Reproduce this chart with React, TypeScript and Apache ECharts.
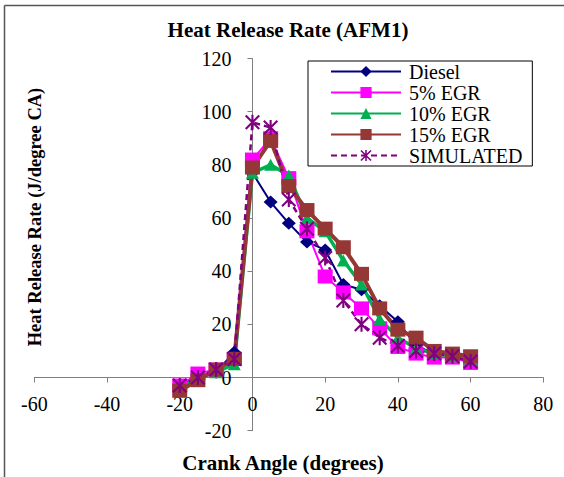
import React, { useEffect, useRef } from "react";
import * as echarts from "echarts";

const angles = [-20, -15, -10, -5, 0, 5, 10, 15, 20, 25, 30, 35, 40, 45, 50, 55, 60];
const diesel = [-3, 0, 2, 9.5, 77, 66, 58, 51, 48, 35, 33, 27, 21, 12, 9, 8, 7];
const egr5 = [-3, 1.5, 3, 7, 82, 90, 75, 55, 38, 32, 26, 18.5, 11.5, 9, 7.5, 7.5, 5.5];
const egr10 = [-4, 0, 2, 5, 77, 80, 76, 60, 55, 44, 35, 22, 15, 11, 9, 8, 7];
const egr15 = [-5, -1, 3, 7, 79, 89, 72, 63, 56, 49, 39, 26, 18, 15, 10, 9, 8];
const simulated = [-3, 0, 3, 7, 96, 94, 67, 56, 45, 29, 20, 15, 12, 10, 9, 8, 6];

const seriesNames = ["Diesel", "5% EGR", "10% EGR", "15% EGR", "SIMULATED"];

const X_MIN = -60;
const X_MAX = 80;
const Y_MIN = -20;
const Y_MAX = 120;

const FONT = "'Liberation Serif', 'Times New Roman', serif";
const ASTERISK =
  "path://M4.3 0 H5.7 V10 H4.3 Z M0 1 L1 0 L10 9 L9 10 Z M9 0 L10 1 L1 10 L0 9 Z";

const pairs = (ys: number[]) => angles.map((x, i) => [x, ys[i]]);

const W = 564;
const H = 477;
const G_LEFT = 34.3;
const G_RIGHT = 20.7;
const G_TOP = 58.5;
const G_BOTTOM = 46.3;

export default function App() {
  const ref = useRef<HTMLDivElement>(null);
  useEffect(() => {
    if (!ref.current) return;
    const chart = echarts.init(ref.current, undefined, { renderer: "svg" });
    const gw = W - G_LEFT - G_RIGHT;
    const gh = H - G_TOP - G_BOTTOM;
    // move axes so they cross at zero
    const xOffset = -((0 - Y_MIN) / (Y_MAX - Y_MIN)) * gh;
    const yOffset = -((0 - X_MIN) / (X_MAX - X_MIN)) * gw;
    const axisLine = { onZero: false, lineStyle: { color: "#808080", width: 1 } };
    chart.setOption({
      animation: false,
      backgroundColor: "#ffffff",
      grid: {
        left: G_LEFT,
        right: G_RIGHT,
        top: G_TOP,
        bottom: G_BOTTOM,
        containLabel: false,
        outerBoundsMode: "none",
      },
      xAxis: {
        type: "value",
        min: X_MIN,
        max: X_MAX,
        interval: 20,
        position: "bottom",
        offset: xOffset,
        axisLine,
        axisTick: { show: true, length: 5, lineStyle: { color: "#808080" } },
        splitLine: { show: false },
        axisLabel: { fontFamily: FONT, fontSize: 20, color: "#000", margin: 16 },
      },
      yAxis: {
        type: "value",
        min: Y_MIN,
        max: Y_MAX,
        interval: 20,
        position: "left",
        offset: yOffset,
        axisLine,
        axisTick: { show: true, length: 5, lineStyle: { color: "#808080" } },
        splitLine: { show: false },
        axisLabel: { fontFamily: FONT, fontSize: 20, color: "#000", margin: 21 },
      },
      legend: {
        orient: "vertical",
        left: 308,
        top: 61,
        padding: [0, 10, 0, 22],
        itemWidth: 70,
        itemHeight: 14,
        itemGap: 0,
        borderColor: "#000",
        borderWidth: 1,
        backgroundColor: "#fff",
        textStyle: { fontFamily: FONT, fontSize: 20, color: "#000", lineHeight: 21, padding: [0, 0, 0, 3] },
        data: seriesNames,
      },
      graphic: [
        {
          type: "line",
          shape: { x1: 4.5, y1: 5.5, x2: 570, y2: 5.5 },
          style: { stroke: "#555", lineWidth: 1.5 },
        },
        {
          type: "line",
          shape: { x1: 4.5, y1: 5.5, x2: 4.5, y2: 480 },
          style: { stroke: "#555", lineWidth: 1.5 },
        },
        {
          type: "text",
          x: 288,
          y: 30,
          style: {
            text: "Heat Release Rate (AFM1)",
            fontFamily: FONT,
            fontSize: 21,
            fontWeight: "bold",
            fill: "#000",
            align: "center",
            verticalAlign: "middle",
          },
        },
        {
          type: "text",
          x: 283,
          y: 463,
          style: {
            text: "Crank Angle (degrees)",
            fontFamily: FONT,
            fontSize: 21,
            fontWeight: "bold",
            fill: "#000",
            align: "center",
            verticalAlign: "middle",
          },
        },
        {
          type: "text",
          x: 35,
          y: 217,
          rotation: Math.PI / 2,
          style: {
            text: "Heat Release Rate (J/degree CA)",
            fontFamily: FONT,
            fontSize: 18.5,
            fontWeight: "bold",
            fill: "#000",
            align: "center",
            verticalAlign: "middle",
          },
        },
      ],
      series: [
        {
          name: "Diesel",
          type: "line",
          data: pairs(diesel),
          symbol: "diamond",
          symbolSize: [14, 13],
          lineStyle: { color: "#000080", width: 2 },
          itemStyle: { color: "#000080" },
        },
        {
          name: "5% EGR",
          type: "line",
          data: pairs(egr5),
          symbol: "rect",
          symbolSize: [15, 14],
          lineStyle: { color: "#FF00FF", width: 2 },
          itemStyle: { color: "#FF00FF" },
        },
        {
          name: "10% EGR",
          type: "line",
          data: pairs(egr10),
          symbol: "triangle",
          symbolSize: [13, 12],
          lineStyle: { color: "#00B050", width: 3.5 },
          itemStyle: { color: "#00B050" },
        },
        {
          name: "15% EGR",
          type: "line",
          data: pairs(egr15),
          symbol: "rect",
          symbolSize: [15, 14],
          lineStyle: { color: "#953735", width: 4 },
          itemStyle: { color: "#953735" },
        },
        {
          name: "SIMULATED",
          type: "line",
          data: pairs(simulated),
          symbol: ASTERISK,
          symbolSize: [15, 15],
          lineStyle: { color: "#800080", width: 2.5, type: [6, 4] },
          itemStyle: { color: "#800080" },
        },
      ],
    });
    return () => chart.dispose();
  }, []);
  return (
    <div
      ref={ref}
      style={{ position: "absolute", left: 0, top: 0, width: W, height: H }}
    />
  );
}
